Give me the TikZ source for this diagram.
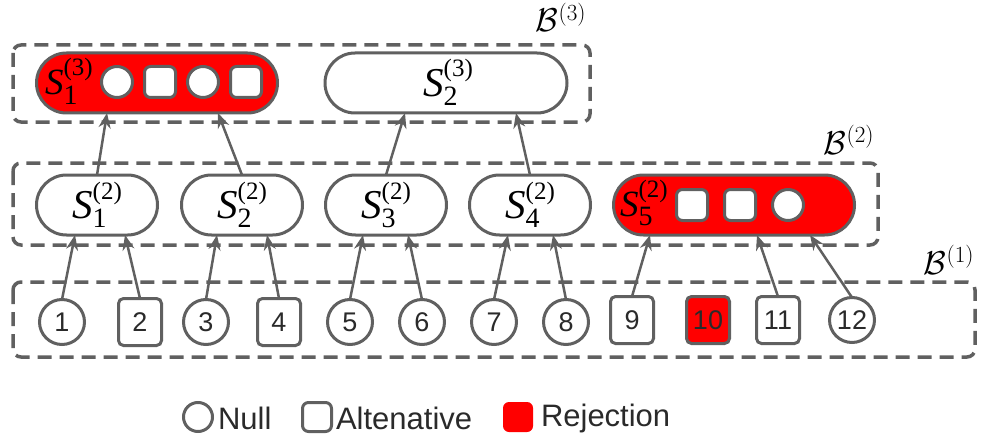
\RequirePackage{fix-cm}
\documentclass[tikz,border=0pt]{standalone}
\usepackage{fontspec}
\newfontfamily\lsans{Liberation Sans}
\newfontfamily\lserif{Liberation Serif}
\usetikzlibrary{shapes.misc,arrows.meta,calc}
\definecolor{gr}{HTML}{606060}
\definecolor{rd}{HTML}{FF0000}
\definecolor{tx}{HTML}{2A2A2A}
% S label: #1 size of S, #2 subscript, #3 superscript
\newcommand\Slab[3]{\mbox{\lserif\itshape\fontsize{#1}{#1}\selectfont S}\rlap{\raisebox{-9.5pt}{\lserif\fontsize{28}{28}\selectfont #2}}\raisebox{19pt}{\lserif\fontsize{25}{25}\selectfont(#3)}}
\begin{document}
\begin{tikzpicture}[x=1pt,y=-1pt,
  every node/.style={inner sep=0pt,outer sep=0pt},
  ln/.style={draw=gr,line width=3pt},
  dbox/.style={draw=gr,line width=3.5pt,dash pattern=on 14pt off 8pt,rounded corners=8pt},
  stad/.style={rounded rectangle,ln,minimum height=60pt,fill=white},
  bc/.style={circle,ln,fill=white,minimum size=45pt,font=\lsans\fontsize{27}{29}\selectfont,text=tx},
  bs/.style={rectangle,rounded corners=5pt,ln,fill=white,minimum width=43pt,minimum height=47pt,font=\lsans\fontsize{27}{29}\selectfont,text=tx},
  ic/.style={circle,ln,fill=white,minimum size=31pt},
  is/.style={rectangle,rounded corners=6pt,ln,fill=white,minimum size=31pt},
  arr/.style={draw=gr,line width=2.5pt,-{Stealth[length=15pt,width=12pt]}},
  leg/.style={font=\lsans\fontsize{31}{33}\selectfont,text=tx,anchor=west},
  blab/.style={font=\fontsize{33}{35}\selectfont,anchor=base}
]
\useasboundingbox (0,0) rectangle (984,441);
% dashed level boxes
\draw[dbox] (13,45) rectangle (590,122);
\draw[dbox] (13,163) rectangle (878,245);
\draw[dbox] (13,282) rectangle (975,357);
\node[blab] (b3) at (561,32) {$\mathcal{B}^{(3)}$};
\node[blab] (b2) at (849,154) {$\mathcal{B}^{(2)}$};
\node[blab] (b1) at (949,274) {$\mathcal{B}^{(1)}$};
% level 3
\node[stad,fill=rd,minimum width=241pt] (s31) at (157,83) {};
\node[anchor=base west] (s31l) at (45,95) {\Slab{37}{1}{3}};
\node[ic] (s31a) at (117,82) {};
\node[is] (s31b) at (160,82) {};
\node[ic] (s31c) at (203,82) {};
\node[is] (s31d) at (246,82) {};
\node[stad,minimum width=242pt] (s32) at (446,83) {};
\node[anchor=base] (s32l) at (448,96) {\Slab{41}{2}{3}};
% level 2
\node[stad,minimum width=121pt] (s21) at (97,205) {};
\node[anchor=base] (s21l) at (97,218) {\Slab{41}{1}{2}};
\node[stad,minimum width=121pt] (s22) at (242,205) {};
\node[anchor=base] (s22l) at (242,218) {\Slab{41}{2}{2}};
\node[stad,minimum width=121pt] (s23) at (386,205) {};
\node[anchor=base] (s23l) at (386,218) {\Slab{41}{3}{2}};
\node[stad,minimum width=121pt] (s24) at (530,205) {};
\node[anchor=base] (s24l) at (530,218) {\Slab{41}{4}{2}};
\node[stad,fill=rd,minimum width=241pt] (s25) at (734,205) {};
\node[anchor=base west] (s25l) at (620,216) {\Slab{37}{5}{2}};
\node[is] (s25a) at (692,205) {};
\node[is] (s25b) at (740,205) {};
\node[ic] (s25c) at (788,205) {};
% level 1
\node[bc] (n1) at (62,322) {1};
\node[bs] (n2) at (140,322) {2};
\node[bc] (n3) at (206,322) {3};
\node[bs] (n4) at (279,322) {4};
\node[bc] (n5) at (350,322) {5};
\node[bc] (n6) at (422,322) {6};
\node[bc] (n7) at (494,322) {7};
\node[bc] (n8) at (566,322) {8};
\node[bs] (n9) at (632,320) {9};
\node[bs,fill=rd] (n10) at (708,320) {10};
\node[bs] (n11) at (778,320) {11};
\node[bc] (n12) at (852,320) {12};
% arrows level 1 -> 2
\draw[arr] (n1.north) -- ([xshift=-22pt]s21.south);
\draw[arr] (n2.north) -- ([xshift=28pt]s21.south);
\draw[arr] (n3.north) -- ([xshift=-25pt]s22.south);
\draw[arr] (n4.north) -- ([xshift=25pt]s22.south);
\draw[arr] (n5.north) -- ([xshift=-23pt]s23.south);
\draw[arr] (n6.north) -- ([xshift=22pt]s23.south);
\draw[arr] (n7.north) -- ([xshift=-22pt]s24.south);
\draw[arr] (n8.north) -- ([xshift=23pt]s24.south);
\draw[arr] (n9.north) -- ([xshift=-84pt]s25.south);
\draw[arr] (n11.north) -- ([xshift=23pt]s25.south);
\draw[arr] (n12.north) -- ([xshift=76pt]s25.south);
% arrows level 2 -> 3
\draw[arr] (s21.north) -- ([xshift=-50pt]s31.south);
\draw[arr] (s22.north) -- ([xshift=61pt]s31.south);
\draw[arr] (s23.north) -- ([xshift=-41pt]s32.south);
\draw[arr] (s24.north) -- ([xshift=70pt]s32.south);
% legend
\node[circle,ln,minimum size=29pt] (lc) at (198,417) {};
\node[leg] (lt1) at (218,418) {Null};
\node[rectangle,rounded corners=6pt,ln,minimum size=29pt] (ls) at (317,417) {};
\node[leg] (lt2) at (336,418) {Altenative};
\node[rectangle,rounded corners=6pt,fill=rd,minimum size=30pt] (lr) at (518,417) {};
\node[leg] (lt3) at (541,418) {Rejection};
\end{tikzpicture}
\end{document}
